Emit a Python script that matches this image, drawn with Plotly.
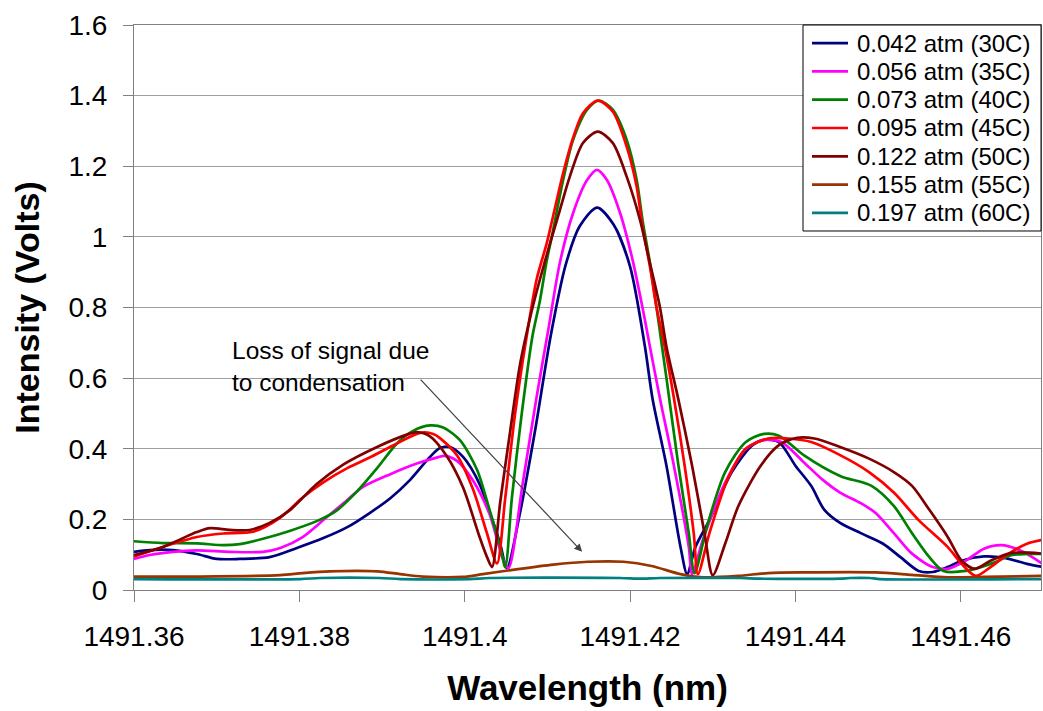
import plotly.graph_objects as go

# Transmission spectra around 1491.42 nm at increasing water-vapour pressure
wl_30c = [1491.3600, 1491.3619, 1491.3647, 1491.3676, 1491.3700, 1491.3728, 1491.3764, 1491.3797, 1491.3829, 1491.3858,
          1491.3885, 1491.3910, 1491.3934, 1491.3958, 1491.3970, 1491.3982, 1491.3998, 1491.4018, 1491.4034, 1491.4043,
          1491.4051, 1491.4067, 1491.4085, 1491.4104, 1491.4122, 1491.4139, 1491.4160, 1491.4180, 1491.4200, 1491.4218,
          1491.4227, 1491.4244, 1491.4261, 1491.4269, 1491.4279, 1491.4296, 1491.4323, 1491.4348, 1491.4362, 1491.4380,
          1491.4400, 1491.4419, 1491.4435, 1491.4454, 1491.4479, 1491.4506, 1491.4527, 1491.4549, 1491.4566, 1491.4584,
          1491.4601, 1491.4628, 1491.4653, 1491.4680, 1491.4699]
v_30c = [0.108, 0.113, 0.113, 0.102, 0.088, 0.088, 0.093, 0.119, 0.147, 0.178,
         0.218, 0.26, 0.312, 0.377, 0.402, 0.405, 0.377, 0.300, 0.195, 0.13,
         0.062, 0.22, 0.45, 0.72, 0.92, 1.03, 1.083, 1.035, 0.916, 0.689,
         0.544, 0.352, 0.122, 0.045, 0.122, 0.198, 0.334, 0.41, 0.425, 0.419,
         0.352, 0.295, 0.227, 0.19, 0.161, 0.131, 0.093, 0.054, 0.051, 0.065,
         0.083, 0.095, 0.091, 0.074, 0.065]

wl_35c = [1491.3600, 1491.3619, 1491.3647, 1491.3676, 1491.3716, 1491.3756, 1491.3777, 1491.3804, 1491.3829, 1491.3858,
          1491.3877, 1491.3910, 1491.3942, 1491.3966, 1491.3976, 1491.3991, 1491.4010, 1491.4030, 1491.4046, 1491.4053,
          1491.4070, 1491.4087, 1491.4101, 1491.4115, 1491.4131, 1491.4148, 1491.4160, 1491.4172, 1491.4188, 1491.4203,
          1491.4215, 1491.4224, 1491.4236, 1491.4253, 1491.4271, 1491.4275, 1491.4288, 1491.4315, 1491.4340, 1491.4362,
          1491.4383, 1491.4410, 1491.4432, 1491.4454, 1491.4479, 1491.4497, 1491.4519, 1491.4541, 1491.4566, 1491.4584,
          1491.4606, 1491.4628, 1491.4649, 1491.4671, 1491.4699]
v_35c = [0.088, 0.099, 0.108, 0.112, 0.108, 0.108, 0.119, 0.15, 0.198, 0.255,
         0.292, 0.328, 0.358, 0.375, 0.38, 0.365, 0.31, 0.215, 0.09, 0.062,
         0.30, 0.547, 0.736, 0.926, 1.067, 1.161, 1.19, 1.161, 1.067, 0.935,
         0.8, 0.689, 0.544, 0.352, 0.122, 0.045, 0.142, 0.304, 0.40, 0.425,
         0.419, 0.362, 0.314, 0.276, 0.246, 0.218, 0.161, 0.103, 0.065, 0.06,
         0.083, 0.117, 0.127, 0.113, 0.074]

wl_40c = [1491.3600, 1491.3635, 1491.3676, 1491.3708, 1491.3728, 1491.3756, 1491.3789, 1491.3821, 1491.3845, 1491.3870,
          1491.3894, 1491.3918, 1491.3937, 1491.3958, 1491.3974, 1491.3994, 1491.4015, 1491.4030, 1491.4043, 1491.4049,
          1491.4057, 1491.4069, 1491.4082, 1491.4091, 1491.4099, 1491.4107, 1491.4119, 1491.4131, 1491.4148, 1491.4162,
          1491.4179, 1491.4196, 1491.4208, 1491.4215, 1491.4224, 1491.4232, 1491.4238, 1491.4244, 1491.4258, 1491.4271,
          1491.4278, 1491.4293, 1491.4315, 1491.4340, 1491.4362, 1491.4380, 1491.4410, 1491.4454, 1491.4492, 1491.4519,
          1491.4541, 1491.4562, 1491.4579, 1491.4606, 1491.4636, 1491.4662, 1491.4680, 1491.4699]
v_40c = [0.138, 0.133, 0.132, 0.127, 0.13, 0.145, 0.168, 0.195, 0.225, 0.28,
         0.345, 0.415, 0.45, 0.466, 0.46, 0.425, 0.34, 0.227, 0.122, 0.065,
         0.26, 0.5, 0.72, 0.82, 0.93, 1.02, 1.161, 1.274, 1.36, 1.386,
         1.36, 1.274, 1.161, 1.048, 0.926, 0.8, 0.70, 0.6, 0.36, 0.161,
         0.048, 0.18, 0.334, 0.419, 0.442, 0.437, 0.382, 0.323, 0.295, 0.238,
         0.161, 0.093, 0.054, 0.054, 0.074, 0.099, 0.102, 0.102]

wl_45c = [1491.3600, 1491.3635, 1491.3676, 1491.3708, 1491.3744, 1491.3777, 1491.3804, 1491.3829, 1491.3858, 1491.3885,
          1491.3918, 1491.3946, 1491.3962, 1491.3970, 1491.3991, 1491.4010, 1491.4027, 1491.4039, 1491.4049, 1491.4061,
          1491.4075, 1491.4087, 1491.4099, 1491.4107, 1491.4119, 1491.4131, 1491.4143, 1491.4161, 1491.4179, 1491.4196,
          1491.4208, 1491.4215, 1491.4224, 1491.4232, 1491.4241, 1491.4253, 1491.4266, 1491.4277, 1491.4282, 1491.4296,
          1491.4318, 1491.4340, 1491.4367, 1491.4392, 1491.4419, 1491.4454, 1491.4489, 1491.4519, 1491.4549, 1491.4584,
          1491.4601, 1491.4618, 1491.4636, 1491.4658, 1491.4680, 1491.4699]
v_45c = [0.095, 0.122, 0.15, 0.16, 0.165, 0.205, 0.262, 0.305, 0.345, 0.375,
         0.415, 0.445, 0.442, 0.43, 0.38, 0.285, 0.16, 0.075, 0.26, 0.5,
         0.72, 0.88, 0.98, 1.06, 1.18, 1.28, 1.35, 1.386, 1.355, 1.255,
         1.142, 1.029, 0.916, 0.8, 0.70, 0.544, 0.352, 0.161, 0.045, 0.161,
         0.314, 0.40, 0.429, 0.429, 0.419, 0.382, 0.334, 0.276, 0.198, 0.122,
         0.074, 0.04, 0.065, 0.103, 0.131, 0.142]

wl_50c = [1491.3600, 1491.3635, 1491.3676, 1491.3692, 1491.3716, 1491.3740, 1491.3764, 1491.3789, 1491.3821, 1491.3853,
          1491.3894, 1491.3930, 1491.3942, 1491.3958, 1491.3978, 1491.3998, 1491.4018, 1491.4027, 1491.4033, 1491.4043,
          1491.4055, 1491.4067, 1491.4080, 1491.4091, 1491.4103, 1491.4115, 1491.4127, 1491.4143, 1491.4161, 1491.4179,
          1491.4196, 1491.4212, 1491.4224, 1491.4236, 1491.4244, 1491.4258, 1491.4275, 1491.4290, 1491.4300, 1491.4315,
          1491.4331, 1491.4358, 1491.4380, 1491.4402, 1491.4423, 1491.4454, 1491.4489, 1491.4519, 1491.4541, 1491.4562,
          1491.4584, 1491.4601, 1491.4617, 1491.4636, 1491.4662, 1491.4699]
v_50c = [0.099, 0.122, 0.164, 0.175, 0.170, 0.17, 0.19, 0.227, 0.30, 0.355,
         0.405, 0.44, 0.447, 0.435, 0.38, 0.29, 0.15, 0.093, 0.065, 0.25,
         0.45, 0.64, 0.78, 0.88, 0.98, 1.075, 1.17, 1.266, 1.298, 1.266,
         1.17, 1.048, 0.926, 0.802, 0.689, 0.544, 0.352, 0.161, 0.042, 0.131,
         0.238, 0.352, 0.41, 0.431, 0.429, 0.405, 0.372, 0.334, 0.295, 0.227,
         0.151, 0.083, 0.06, 0.083, 0.105, 0.103]

wl_55c = [1491.3600, 1491.3680, 1491.3777, 1491.3804, 1491.3837, 1491.3894, 1491.3922, 1491.3949, 1491.3998, 1491.4022,
          1491.4058, 1491.4107, 1491.4149, 1491.4192, 1491.4226, 1491.4261, 1491.4288, 1491.4331, 1491.4367, 1491.4410,
          1491.4497, 1491.4541, 1491.4584, 1491.4628, 1491.4699]
v_55c = [0.038, 0.038, 0.042, 0.048, 0.053, 0.053, 0.045, 0.038, 0.037, 0.045,
         0.057, 0.072, 0.080, 0.080, 0.068, 0.045, 0.036, 0.040, 0.048, 0.050,
         0.050, 0.043, 0.036, 0.037, 0.040]

wl_60c = [1491.3600, 1491.3801, 1491.3825, 1491.3897, 1491.3922, 1491.4006, 1491.4030, 1491.4188, 1491.4212, 1491.4236,
          1491.4333, 1491.4357, 1491.4454, 1491.4466, 1491.4490, 1491.4502, 1491.4699]
v_60c = [0.031, 0.031, 0.034, 0.034, 0.031, 0.031, 0.034, 0.034, 0.032, 0.034,
         0.034, 0.032, 0.032, 0.034, 0.034, 0.031, 0.031]

series_names = ["0.042 atm (30C)", "0.056 atm (35C)", "0.073 atm (40C)", "0.095 atm (45C)",
                "0.122 atm (50C)", "0.155 atm (55C)", "0.197 atm (60C)"]
series_colors = ["#000080", "#FF00FF", "#008000", "#FF0000", "#800000", "#993300", "#008080"]

x_ticks = [1491.36, 1491.38, 1491.40, 1491.42, 1491.44, 1491.46]
x_ticktext = ["1491.36", "1491.38", "1491.4", "1491.42", "1491.44", "1491.46"]
y_ticks = [0, 0.2, 0.4, 0.6, 0.8, 1.0, 1.2, 1.4, 1.6]
y_ticktext = ["0", "0.2", "0.4", "0.6", "0.8", "1", "1.2", "1.4", "1.6"]

FONT = "Liberation Sans, Arial, sans-serif"

fig = go.Figure()
all_wl = [wl_30c, wl_35c, wl_40c, wl_45c, wl_50c, wl_55c, wl_60c]
all_v = [v_30c, v_35c, v_40c, v_45c, v_50c, v_55c, v_60c]
for wl, v, name, color in zip(all_wl, all_v, series_names, series_colors):
    fig.add_trace(go.Scatter(
        x=wl, y=v, mode="lines", name=name, showlegend=False,
        line=dict(color=color, width=2.7, shape="spline", smoothing=0.8),
    ))

# Compact boxed key in the upper-right corner of the plot area
key_left, key_right, key_top, key_bottom = 0.7376, 1.0, 1.0, 0.6354
row_step = 0.0501
fig.add_shape(type="rect", xref="paper", yref="paper",
              x0=key_left, x1=key_right, y0=key_bottom, y1=key_top,
              line=dict(color="black", width=1), fillcolor="white", layer="above")
for i, (name, color) in enumerate(zip(series_names, series_colors)):
    row_y = 0.968 - i * row_step
    fig.add_shape(type="line", xref="paper", yref="paper",
                  x0=0.7475, x1=0.7872, y0=row_y, y1=row_y,
                  line=dict(color=color, width=2.7), layer="above")
    fig.add_annotation(x=0.7950, y=row_y, xref="paper", yref="paper",
                       text=name, showarrow=False, xanchor="left", yanchor="middle",
                       font=dict(family=FONT, size=24, color="black"))

# Callout with arrow pointing at the flattened high-pressure traces
fig.add_annotation(
    x=1491.3716, y=0.634, xref="x", yref="y",
    text="Loss of signal due<br>to condensation", showarrow=False,
    xanchor="left", yanchor="middle", align="left",
    font=dict(family=FONT, size=24.5, color="black"),
)
fig.add_annotation(
    x=1491.4142, y=0.108, ax=1491.3945, ay=0.600,
    xref="x", yref="y", axref="x", ayref="y",
    text="", showarrow=True, arrowhead=2, arrowsize=1.3, arrowwidth=1.2,
    arrowcolor="#404040",
)

fig.update_layout(
    width=1043, height=711,
    margin=dict(l=134, r=2, t=25, b=121),
    paper_bgcolor="white", plot_bgcolor="white",
    font=dict(family=FONT, color="black"),
    showlegend=False,
)
fig.update_xaxes(
    range=[1491.36, 1491.4697],
    tickvals=x_ticks, ticktext=x_ticktext,
    tickfont=dict(family=FONT, size=28, color="black"),
    ticks="outside", ticklen=11, tickcolor="#808080", ticklabelstandoff=10,
    showline=True, linecolor="#808080", linewidth=1, mirror=True,
    showgrid=False, zeroline=False,
    title=dict(text="<b>Wavelength (nm)</b>", font=dict(family=FONT, size=35, color="black"), standoff=24),
)
fig.update_yaxes(
    range=[0, 1.6],
    tickvals=y_ticks, ticktext=y_ticktext,
    tickfont=dict(family=FONT, size=28, color="black"),
    ticks="outside", ticklen=10, tickcolor="#808080", ticklabelstandoff=10,
    showline=True, linecolor="#808080", linewidth=1, mirror=True,
    showgrid=True, gridcolor="#a0a0a0", gridwidth=1, zeroline=False,
    title=dict(text="<b>Intensity (Volts)</b>", font=dict(family=FONT, size=34, color="black"), standoff=18),
)

fig.write_html("out.html")
